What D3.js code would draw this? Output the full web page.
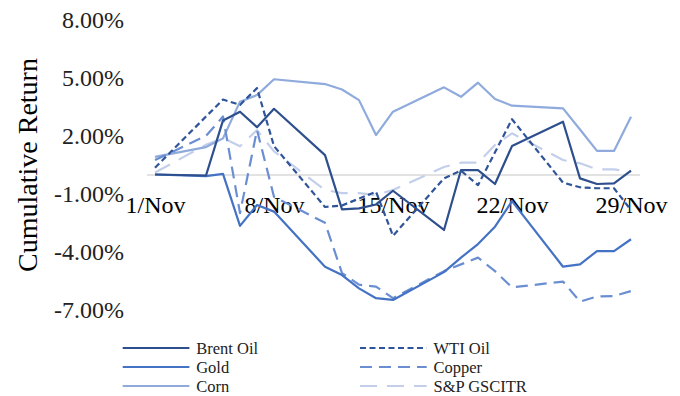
<!DOCTYPE html>
<html>
<head>
<meta charset="utf-8">
<script src="https://cdn.jsdelivr.net/npm/d3@7/dist/d3.min.js"></script>
<style>
  html, body { margin: 0; padding: 0; background: #fff; }
  svg { display: block; }
</style>
</head>
<body>
<svg id="chart" width="680" height="396"></svg>
<script>
// Trading days of November 2019
const dates = ["2019-11-01","2019-11-04","2019-11-05","2019-11-06","2019-11-07","2019-11-08",
  "2019-11-11","2019-11-12","2019-11-13","2019-11-14","2019-11-15",
  "2019-11-18","2019-11-19","2019-11-20","2019-11-21","2019-11-22",
  "2019-11-25","2019-11-26","2019-11-27","2019-11-28","2019-11-29"];

// Cumulative returns, in percent
const brentOil = [0.00, -0.05, 2.80, 3.25, 2.45, 3.40, 1.00, -1.80, -1.75, -1.55, -0.84,
  -2.87, 0.23, 0.23, -0.49, 1.47, 2.73, -0.20, -0.49, -0.46, 0.20];
const wtiOil = [0.35, 3.00, 3.88, 3.60, 4.47, 1.47, -1.68, -1.60, -1.25, -0.89, -3.17,
  -0.20, 0.20, -0.55, 1.15, 2.86, -0.42, -0.66, -0.71, -0.71, -1.84];
const gold = [0.00, -0.08, 0.03, -2.66, -1.58, -1.92, -4.77, -5.20, -5.89, -6.40, -6.49,
  -5.05, -4.30, -3.60, -2.70, -1.38, -4.77, -4.65, -3.96, -3.96, -3.35];
const copper = [0.75, 2.00, 3.00, -2.00, 2.30, -1.15, -2.50, -5.10, -5.70, -5.80, -6.40,
  -5.00, -4.65, -4.30, -5.00, -5.84, -5.54, -6.58, -6.31, -6.29, -6.03];
const corn = [0.91, 1.42, 1.87, 3.77, 4.11, 4.93, 4.68, 4.40, 3.85, 2.04, 3.25,
  4.51, 4.02, 4.75, 3.91, 3.56, 3.42, 2.33, 1.22, 1.22, 2.99];
const gscitr = [0.10, 1.54, 1.89, 1.46, 2.30, 1.20, -0.80, -0.96, -0.96, -1.06, -0.80,
  0.39, 0.61, 0.61, 1.53, 2.13, 0.75, 0.58, 0.27, 0.27, 0.14];

const seriesNames = ["Brent Oil", "WTI Oil", "Gold", "Copper", "Corn", "S&P GSCITR"];
const seriesValues = [brentOil, wtiOil, gold, copper, corn, gscitr];

const yTicks = [-7, -4, -1, 2, 5, 8];
const xTickLabels = ["1/Nov", "8/Nov", "15/Nov", "22/Nov", "29/Nov"];
const xTickDates = ["2019-11-01", "2019-11-08", "2019-11-15", "2019-11-22", "2019-11-29"];

// Line styling per series
const styles = [
  { color: "#2E4F8E", dash: null },
  { color: "#30549A", dash: "6,3.5" },
  { color: "#4472C4", dash: null },
  { color: "#6B8ED2", dash: "12,7" },
  { color: "#8FAADC", dash: null },
  { color: "#C3CFEA", dash: "17,10" }
];

const parse = d3.utcParse("%Y-%m-%d");
const font = "'Liberation Serif','Times New Roman',serif";
const svg = d3.select("#chart");

const x = d3.scaleUtc()
  .domain([new Date(Date.UTC(2019, 9, 31, 12)), new Date(Date.UTC(2019, 10, 29, 12))])
  .range([146.5, 639.5]);
const y = d3.scaleLinear().domain([-7, 8]).range([309.8, 19.9]);

// Horizontal axis along the zero line
const xAxis = svg.append("g")
  .attr("transform", `translate(0,${y(0)})`)
  .call(d3.axisBottom(x)
    .tickValues(xTickDates.map(parse))
    .tickFormat((d, i) => xTickLabels[i])
    .tickSize(0)
    .tickPadding(21.5));
xAxis.select(".domain").attr("stroke", "#D9D9D9").attr("stroke-width", 1.5);
xAxis.selectAll("text").attr("font-family", font).attr("font-size", 24).attr("fill", "#000");

// Vertical axis labels only
const yAxis = svg.append("g")
  .attr("transform", "translate(130,0)")
  .call(d3.axisLeft(y)
    .tickValues(yTicks)
    .tickFormat(v => v.toFixed(2) + "%")
    .tickSize(0)
    .tickPadding(6));
yAxis.select(".domain").remove();
yAxis.selectAll("text").attr("font-family", font).attr("font-size", 24).attr("fill", "#222");

svg.append("text")
  .attr("transform", "translate(37,165) rotate(-90)")
  .attr("text-anchor", "middle")
  .attr("font-family", font)
  .attr("font-size", 28)
  .attr("fill", "#000")
  .text("Cumulative Return");

const line = d3.line()
  .x(d => x(d.date))
  .y(d => y(d.value));

// Draw from the lightest series to the darkest so dark lines sit on top
const order = [5, 4, 3, 2, 1, 0];
order.forEach(k => {
  const pts = dates.map((dt, i) => ({ date: parse(dt), value: seriesValues[k][i] }));
  svg.append("path")
    .datum(pts)
    .attr("fill", "none")
    .attr("stroke", styles[k].color)
    .attr("stroke-width", 2.2)
    .attr("stroke-linejoin", "round")
    .attr("stroke-dasharray", styles[k].dash)
    .attr("d", line);
});

// Legend: two columns, three rows
const legendCols = [122.7, 360];
const legendRows = [348, 367, 386];
seriesNames.forEach((name, k) => {
  const cx = legendCols[k % 2];
  const cy = legendRows[Math.floor(k / 2)];
  const g = svg.append("g");
  g.append("line")
    .attr("x1", cx).attr("x2", cx + 66.7)
    .attr("y1", cy).attr("y2", cy)
    .attr("stroke", styles[k].color)
    .attr("stroke-width", 2.2)
    .attr("stroke-dasharray", styles[k].dash);
  g.append("text")
    .attr("x", cx + 73.5)
    .attr("y", cy)
    .attr("dy", "0.35em")
    .attr("font-family", font)
    .attr("font-size", 16.5)
    .attr("fill", "#222")
    .text(name);
});
</script>
</body>
</html>
